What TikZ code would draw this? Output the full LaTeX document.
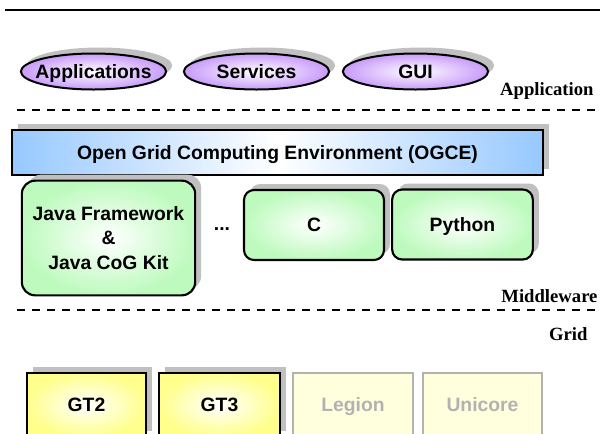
\documentclass[tikz,border=0pt]{standalone}
\usepackage{fontspec}
\setmainfont{Liberation Sans}
\newfontfamily\layerfont{Liberation Serif}
\usetikzlibrary{shapes.geometric,shadows}

\definecolor{ovalpurple}{RGB}{200,155,250}
\definecolor{barblue}{RGB}{150,200,255}
\definecolor{boxgreen}{RGB}{190,250,190}
\definecolor{boxyellow}{RGB}{255,255,140}
\definecolor{paleyellow}{RGB}{255,255,222}
\definecolor{shadowgray}{RGB}{192,192,192}
\definecolor{fadedgray}{RGB}{178,178,178}

\tikzset{every picture/.style={line width=0.75pt}}
\tikzset{
  graysh/.style={drop shadow={shadow xshift=4.5pt,shadow yshift=4.5pt,fill=shadowgray,opacity=1}},
  boxtext/.style={font=\bfseries\fontsize{14.5}{18.5}\selectfont,align=center,inner sep=0pt},
  capsmid/.style={text height=10.4pt,text depth=0pt},
  layertext/.style={font=\layerfont\bfseries\fontsize{14}{16}\selectfont,inner sep=0pt,anchor=base east},
  appoval/.style={boxtext,capsmid,ellipse,inner sep=-12pt,draw,line width=1.5pt,graysh,shading=radial,inner color=white,outer color=ovalpurple,minimum width=109pt,minimum height=27pt},
  langbox/.style={boxtext,draw,line width=1.6pt,graysh,rounded corners=7.5pt,shading=radial,inner color=white,outer color=boxgreen},
  gtbox/.style={boxtext,capsmid,draw,line width=1.6pt,graysh,shading=radial,inner color=white,outer color=boxyellow,minimum width=89.5pt,minimum height=48pt},
  offbox/.style={boxtext,capsmid,draw=fadedgray,line width=1.6pt,fill=paleyellow,text=fadedgray,minimum width=89.5pt,minimum height=48pt},
  layerline/.style={line width=2pt,dash pattern=on 6pt off 5.25pt}
}

\begin{document}
\begin{tikzpicture}[x=0.75pt,y=0.75pt,yscale=-1,xscale=1]
\clip (0,0) rectangle (600,433);

% top rule
\coordinate (ruleL) at (5,10);
\coordinate (ruleR) at (600,10);
\draw [line width=1pt] (ruleL) -- (ruleR);

% Application layer
\node [appoval] (apps) at (93.5,71.5) {Applications};
\node [appoval] (services) at (256.5,71.5) {Services};
\node [appoval] (gui) at (415.5,71.5) {GUI};
\node [layertext] (applayer) at (594,95) {Application};

%Dashed line
\coordinate (dashAL) at (17,110);
\coordinate (dashAR) at (600,110);
\draw [layerline] (dashAL) -- (dashAR);

% Middleware layer
\node [boxtext,capsmid,draw,line width=1.6pt,graysh,left color=barblue,right color=barblue,middle color=white,minimum width=398pt,minimum height=34pt] (ogce) at (277.5,152.5) {Open Grid Computing Environment (OGCE)};
\node [langbox,rounded corners=10pt,minimum width=130pt,minimum height=86pt] (java) at (108.5,238) {Java Framework\\\&\\Java CoG Kit};
\node [boxtext] (dots) at (222,229) {...};
\node [langbox,capsmid,minimum width=105pt,minimum height=52.5pt] (clang) at (314,225) {C};
\node [langbox,capsmid,minimum width=105.5pt,minimum height=52.5pt] (python) at (462.5,224.5) {Python};
\node [layertext] (midlayer) at (598,302) {Middleware};

%Dashed line
\coordinate (dashBL) at (17,310);
\coordinate (dashBR) at (600,310);
\draw [layerline] (dashBL) -- (dashBR);

% Grid layer
\node [layertext] (gridlayer) at (588,340) {Grid};
\node [gtbox] (gttwo) at (86.5,405) {GT2};
\node [gtbox,minimum width=90.5pt] (gtthree) at (219.5,405) {GT3};
\node [offbox,minimum width=90pt] (legion) at (353,405) {Legion};
\node [offbox] (unicore) at (482.5,405) {Unicore};

\end{tikzpicture}
\end{document}
